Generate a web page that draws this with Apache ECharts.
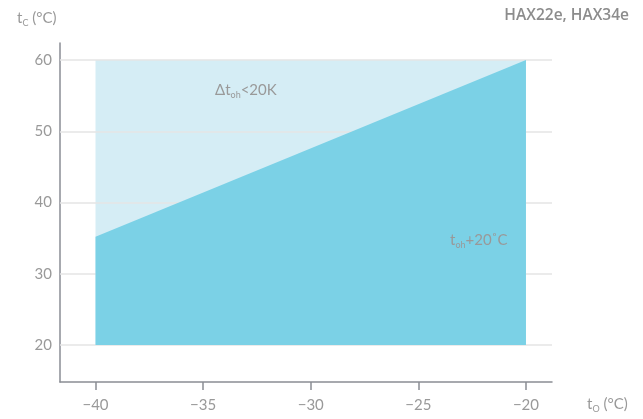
<!DOCTYPE html>
<html><head><meta charset="utf-8">
<script src="https://cdn.jsdelivr.net/npm/echarts@6/dist/echarts.min.js"></script>
<style>html,body{margin:0;padding:0;background:#fff}#c{width:643px;height:419px}</style>
</head><body><div id="c"></div>
<script>
var xTicks = [-40, -35, -30, -25, -20];
var yTicks = [20, 30, 40, 50, 60];
var envelopeTop = [[-40, 60], [-20, 60]];
var superheatLine = [[-40, 35.2], [-20, 60]];
var baseLevel = 20;

var chart = echarts.init(document.getElementById('c'));
var txt = '#999';
var font = 'Lato, "Open Sans", sans-serif';
var rich = {a: {fontSize: 15, fill: txt, fontFamily: font}, s: {fontSize: 9, fill: txt, fontFamily: font, padding: [10, 0, 0, 0]}};
chart.setOption({
  animation: false,
  grid: {left: 60, right: 91, top: 43, bottom: 37, containLabel: false},
  xAxis: {
    type: 'value', min: -41.65, max: -18.79, interval: 5,
    axisLine: {show: true, lineStyle: {color: '#8a8d94', width: 1.5}},
    axisTick: {show: true, length: 8, lineStyle: {color: '#8a8d94', width: 1.5},
      customValues: xTicks},
    axisLabel: {color: txt, fontSize: 15, fontFamily: font, margin: 16,
      customValues: xTicks, formatter: function(v){return String(v).replace('-', '\u2212');}},
    splitLine: {show: false}
  },
  yAxis: {
    type: 'value', min: 14.81, max: 62.39, interval: 10,
    axisLine: {show: true, lineStyle: {color: '#8a8d94', width: 1.5}},
    axisTick: {show: false},
    axisLabel: {color: txt, fontSize: 15, fontFamily: font, margin: 8, customValues: yTicks},
    splitLine: {show: false}
  },
  series: [
    {type: 'line', data: envelopeTop, symbol: 'none', lineStyle: {width: 0},
      areaStyle: {color: '#d5edf5', opacity: 1, origin: baseLevel}, z: 1},
    {type: 'line', data: [], symbol: 'none', z: 1.5, silent: true,
      markLine: {z: 1.5, silent: true, symbol: 'none', label: {show: false},
        lineStyle: {color: '#e4e4e4', width: 1.5, type: 'solid'},
        data: yTicks.map(function(v){return {yAxis: v};})}},
    {type: 'line', data: superheatLine, symbol: 'none', lineStyle: {width: 0},
      areaStyle: {color: '#7bd1e6', opacity: 1, origin: baseLevel}, z: 3}
  ],
  graphic: [
    {type: 'text', z: 100, left: 17, top: 11, style: {text: '{a|t}{s|C}{a| (°C)}', rich: rich}},
    {type: 'text', z: 100, right: 14, top: 8, style: {text: 'HAX22e, HAX34e', fontSize: 15.5, fontWeight: 600,
      fill: '#8c8c8c', fontFamily: '"Open Sans", sans-serif'}},
    {type: 'text', z: 100, left: 215, top: 83, style: {text: '{a|Δt}{s|oh}{a|<20K}', rich: rich}},
    {type: 'text', z: 100, left: 450, top: 233, style: {text: '{a|t}{s|oh}{a|+20˚C}', rich: rich}},
    {type: 'text', z: 100, left: 587, top: 397, style: {text: '{a|t}{s|O}{a| (°C)}', rich: rich}}
  ]
});
</script></body></html>
